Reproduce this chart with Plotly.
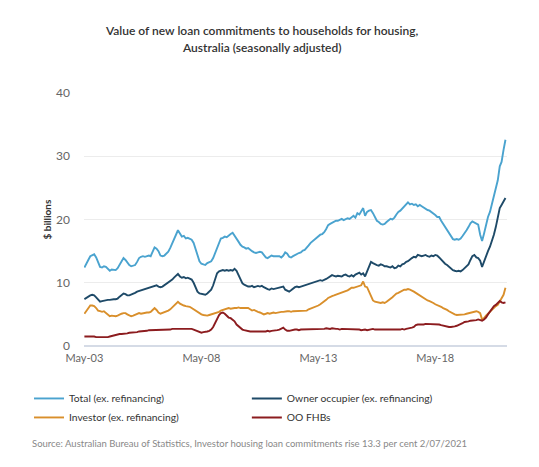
import pandas as pd
import plotly.graph_objects as go

# Monthly data, May-2003 to May-2021 ($ billions, seasonally adjusted)
months = pd.date_range("2003-05-01", "2021-05-01", freq="MS")

total = [
    12.4, 12.9, 13.6, 14.2, 14.4, 14.5, 14.0, 13.2,
    12.5, 12.4, 12.6, 12.5, 12.2, 11.9, 12.1, 12.0, 12.0, 12.3, 12.8, 13.3,
    13.9, 13.6, 13.2, 12.8, 12.6, 12.7, 12.8, 13.3, 13.9, 14.1, 14.2, 14.1,
    14.2, 14.3, 14.2, 14.8, 15.6, 15.4, 15.0, 14.3, 14.2, 14.3, 14.6, 14.9,
    15.5, 16.2, 16.9, 17.6, 18.3, 17.8, 17.3, 17.4, 17.0, 17.1, 17.0, 16.8,
    16.3, 15.2, 14.2, 13.4, 13.0, 12.9, 12.8, 13.1, 13.3, 13.4, 13.9, 14.7,
    15.6, 16.5, 17.0, 17.1, 17.3, 17.2, 17.5, 17.7, 17.9, 17.5, 17.0, 16.5,
    16.0, 15.7, 15.6, 15.4, 15.5, 15.2, 15.0, 14.8, 14.7, 14.8, 14.9, 14.8,
    14.4, 14.0, 13.9, 14.1, 14.3, 14.2, 14.2, 14.1, 14.2, 14.0, 14.3, 14.8,
    14.6, 14.1, 14.0, 14.2, 14.4, 14.6, 14.7, 14.8, 15.1, 15.2, 15.5, 15.9,
    16.3, 16.6, 16.8, 17.1, 17.4, 17.6, 17.7, 18.0, 18.5, 19.1, 19.3, 19.5,
    19.6, 19.8, 19.8, 19.9, 20.1, 19.9, 20.0, 20.2, 20.1, 20.4, 20.6, 20.3,
    21.0, 20.8, 21.3, 21.8, 20.6, 21.2, 21.4, 21.5, 21.0, 20.4, 19.8, 19.6,
    19.3, 19.2, 19.3, 19.6, 19.9, 20.1, 20.0, 20.3, 20.8, 21.2, 21.4, 21.7,
    22.0, 22.3, 22.7, 22.4, 22.5, 22.3, 22.4, 22.1, 22.3, 22.1, 21.9, 21.6,
    21.5, 21.4, 21.2, 21.0, 20.7, 20.4, 20.4, 19.8, 19.3, 18.7, 18.3, 17.8,
    17.3, 16.9, 16.8, 16.9, 16.8, 17.0, 17.4, 17.8, 18.3, 18.8, 19.4, 19.7,
    19.5, 19.4, 19.2, 17.6, 16.6, 17.8, 19.3, 20.4, 21.2, 22.5, 23.4, 24.9,
    26.2, 28.4, 29.1, 31.0, 32.6,
]

owner_occupier = [
    7.4, 7.6, 7.9, 8.0, 8.1, 8.0, 7.7, 7.3,
    7.0, 7.1, 7.2, 7.2, 7.3, 7.3, 7.4, 7.4, 7.4, 7.5, 7.8, 8.0,
    8.3, 8.2, 8.0, 8.0, 8.1, 8.2, 8.4, 8.6, 8.7, 8.8, 8.9, 9.0,
    9.1, 9.2, 9.3, 9.5, 9.6, 9.6, 9.4, 9.3, 9.4, 9.6, 9.8, 10.0,
    10.2, 10.5, 10.8, 11.1, 11.4, 11.0, 10.8, 10.9, 10.7, 10.8, 10.7, 10.5,
    10.0, 9.3, 8.6, 8.3, 8.2, 8.1, 8.1, 8.3, 8.6, 8.9, 9.6, 10.6,
    11.5, 11.8, 11.9, 12.0, 11.9, 12.0, 11.9, 12.0, 11.9, 12.2, 11.9, 11.3,
    10.6, 9.9, 9.7, 9.5, 9.4, 9.4, 9.5, 9.3, 9.4, 9.5, 9.4, 9.5,
    9.3, 9.1, 9.0, 8.9, 9.1, 9.0, 9.1, 9.1, 9.2, 9.3, 9.4, 8.9,
    8.8, 8.6, 8.8, 9.1, 9.3, 9.4, 9.3, 9.4, 9.5, 9.6, 9.6, 9.7,
    9.8, 9.9, 10.1, 10.2, 10.3, 10.4, 10.3, 10.4, 10.6, 10.8, 11.0, 11.2,
    11.1, 11.0, 11.1, 11.0, 11.0, 11.2, 11.3, 11.1, 11.0, 11.2, 11.0, 11.3,
    11.4, 11.6, 11.3, 11.5, 11.0, 11.7, 12.6, 13.3, 13.1, 12.9, 12.8, 12.7,
    12.9, 12.8, 12.6, 12.6, 12.5, 12.4, 12.6, 12.3, 12.4, 12.7, 12.6, 12.9,
    13.0, 13.3, 13.4, 13.7, 13.9, 14.1, 14.0, 14.4, 14.3, 14.2, 14.3, 14.4,
    14.2, 14.1, 14.3, 14.2, 14.4, 14.3, 14.0, 13.6, 13.3, 13.0, 12.8, 12.5,
    12.2, 12.0, 11.9, 11.8, 11.9, 11.8, 12.0, 12.3, 12.5, 12.9, 13.6, 14.2,
    14.4, 14.0, 13.9, 13.5, 12.5, 13.4, 14.2, 15.0, 15.7, 16.6, 17.6, 18.8,
    20.4, 21.8, 22.3, 22.9, 23.4,
]

investor = [
    5.1, 5.6, 6.1, 6.4, 6.4, 6.3, 6.0, 5.6,
    5.5, 5.4, 5.5, 5.2, 4.9, 4.7, 4.8, 4.7, 4.7, 4.8, 5.0, 5.1,
    5.2, 5.2, 5.0, 4.8, 4.7, 4.8, 4.9, 5.1, 5.2, 5.1, 5.2, 5.3,
    5.3, 5.3, 5.4, 5.7, 6.0, 5.7, 5.3, 5.1, 5.2, 5.3, 5.5, 5.6,
    5.8, 6.1, 6.4, 6.7, 7.0, 6.7, 6.5, 6.4, 6.3, 6.3, 6.2, 6.0,
    5.8, 5.5, 5.3, 5.2, 5.0, 4.9, 4.8, 4.8, 4.9, 5.0, 5.0, 5.1,
    5.3, 5.4, 5.6, 5.7, 5.8, 5.9, 6.0, 5.9, 6.0, 6.0, 6.0, 6.1,
    6.0, 6.0, 6.1, 6.0, 6.0, 5.8, 5.6, 5.7, 5.5, 5.4, 5.3, 5.2,
    5.0, 5.1, 5.2, 5.1, 5.2, 5.3, 5.2, 5.3, 5.3, 5.4, 5.4, 5.5,
    5.5, 5.5, 5.4, 5.5, 5.5, 5.5, 5.6, 5.5, 5.5, 5.6, 5.6, 5.8,
    5.9, 6.0, 6.1, 6.2, 6.4, 6.6, 6.8, 7.0, 7.3, 7.6, 7.8, 7.9,
    8.0, 8.1, 8.2, 8.4, 8.4, 8.5, 8.6, 8.8, 9.0, 9.2, 9.2, 9.3,
    9.4, 9.5, 9.6, 10.2, 9.4, 9.3, 8.6, 7.8, 7.2, 7.0, 6.9, 6.8,
    6.8, 6.9, 6.8, 7.0, 7.2, 7.5, 7.7, 8.0, 8.3, 8.4, 8.6, 8.8,
    8.9, 8.9, 9.0, 8.9, 8.8, 8.6, 8.4, 8.2, 8.0, 7.8, 7.5, 7.3,
    7.2, 7.1, 7.0, 6.8, 6.6, 6.5, 6.4, 6.2, 6.0, 5.9, 5.7, 5.5,
    5.3, 5.1, 5.0, 4.9, 4.9, 4.9, 5.0, 5.0, 5.1, 5.2, 5.2, 5.3,
    5.4, 5.5, 5.4, 5.2, 4.2, 4.4, 4.8, 5.1, 5.4, 5.8, 6.0, 6.3,
    6.5, 7.1, 7.6, 8.1, 9.2,
]

oo_fhb = [
    1.5, 1.5, 1.5, 1.6, 1.5, 1.5, 1.4, 1.4,
    1.3, 1.3, 1.3, 1.4, 1.4, 1.5, 1.6, 1.7, 1.8, 1.8, 1.9, 1.9,
    1.9, 2.0, 2.0, 2.1, 2.1, 2.1, 2.2, 2.2, 2.3, 2.3, 2.3, 2.4,
    2.4, 2.5, 2.5, 2.5, 2.6, 2.5, 2.5, 2.6, 2.5, 2.6, 2.6, 2.6,
    2.6, 2.7, 2.7, 2.7, 2.8, 2.7, 2.7, 2.8, 2.8, 2.7, 2.8, 2.7,
    2.6, 2.5, 2.3, 2.2, 2.1, 2.2, 2.2, 2.3, 2.4, 2.6, 3.0, 3.6,
    4.3, 4.9, 5.2, 5.3, 5.1, 4.8, 4.5, 4.4, 4.2, 3.9, 3.4, 3.1,
    2.9, 2.6, 2.5, 2.4, 2.4, 2.3, 2.3, 2.3, 2.2, 2.3, 2.3, 2.2,
    2.2, 2.3, 2.4, 2.3, 2.4, 2.4, 2.5, 2.5, 2.6, 2.8, 2.9, 2.6,
    2.4, 2.4, 2.5, 2.6, 2.6, 2.6, 2.5, 2.6, 2.6, 2.7, 2.6, 2.6,
    2.7, 2.6, 2.7, 2.7, 2.7, 2.6, 2.7, 2.7, 2.8, 2.7, 2.7, 2.8,
    2.7, 2.7, 2.7, 2.6, 2.7, 2.7, 2.7, 2.6, 2.6, 2.7, 2.6, 2.6,
    2.6, 2.6, 2.5, 2.6, 2.6, 2.5, 2.6, 2.6, 2.7, 2.6, 2.6, 2.5,
    2.6, 2.6, 2.5, 2.6, 2.6, 2.6, 2.6, 2.5, 2.6, 2.6, 2.6, 2.7,
    2.6, 2.7, 2.8, 2.8, 2.9, 3.0, 3.3, 3.4, 3.4, 3.3, 3.4, 3.5,
    3.5, 3.4, 3.5, 3.5, 3.4, 3.5, 3.4, 3.3, 3.2, 3.1, 3.1, 3.0,
    3.0, 3.0, 3.1, 3.2, 3.3, 3.5, 3.6, 3.8, 3.8, 3.9, 4.0, 4.0,
    4.1, 4.1, 4.2, 4.1, 4.0, 4.2, 4.5, 5.0, 5.5, 6.0, 6.3, 6.5,
    6.8, 7.1, 6.9, 6.8, 6.9,
]

series_names = ["Total (ex. refinancing)", "Owner occupier (ex. refinancing)",
                "Investor (ex. refinancing)", "OO FHBs"]
series_colors = ["#4aa3cf", "#1e4a68", "#d98f2b", "#8c1c1f"]
series_legend = ["legend", "legend2", "legend", "legend2"]

tick_dates = ["2003-05-01", "2008-05-01", "2013-05-01", "2018-05-01"]
tick_labels = ["May-03", "May-08", "May-13", "May-18"]
y_ticks = [0, 10, 20, 30, 40]

FONT = "Lato, 'Open Sans', sans-serif"

fig = go.Figure()
for name, vals, col, lg in zip(series_names, [total, owner_occupier, investor, oo_fhb],
                               series_colors, series_legend):
    fig.add_trace(go.Scatter(x=months, y=vals, mode="lines", name=name, legend=lg,
                             line=dict(color=col, width=1.9)))

legend_common = dict(orientation="v", yanchor="top", xanchor="left",
                     font=dict(size=10.3, color="#333", family=FONT),
                     itemwidth=30, bgcolor="rgba(0,0,0,0)", traceorder="normal")

# page body has an 8px margin, so the figure is drawn 8px smaller than the window
fig.update_layout(
    width=531, height=459,
    paper_bgcolor="white", plot_bgcolor="white",
    margin=dict(l=76, r=32, t=85, b=121, autoexpand=False),
    font=dict(family=FONT, color="#444"),
    showlegend=True,
    legend=dict(x=-0.13, y=-0.15, **legend_common),
    legend2=dict(x=0.385, y=-0.15, **legend_common),
    annotations=[
        dict(text="Value of new loan commitments to households for housing,",
             xref="paper", yref="paper", x=0.421, xanchor="center",
             y=1.248, yanchor="middle", showarrow=False,
             font=dict(size=12, color="#333", family=FONT, weight=600)),
        dict(text="Australia (seasonally adjusted)",
             xref="paper", yref="paper", x=0.421, xanchor="center",
             y=1.181, yanchor="middle", showarrow=False,
             font=dict(size=12, color="#333", family=FONT, weight=600)),
        dict(text="Source: Australian Bureau of Statistics, Investor housing loan commitments rise 13.3 per cent 2/07/2021",
             xref="paper", yref="paper", x=-0.127, xanchor="left", y=-0.384, yanchor="middle",
             showarrow=False, font=dict(size=9.5, color="#888", family=FONT)),
    ],
)

fig.update_xaxes(
    type="date", range=["2003-04-25", "2021-05-25"],
    tickvals=tick_dates, ticktext=tick_labels,
    showgrid=False, showline=False, zeroline=False,
    tickfont=dict(size=11, color="#666"), ticks="", ticklabelstandoff=4,
)
fig.update_yaxes(
    range=[0, 40], tickvals=y_ticks, showgrid=True, gridcolor="#ececec", gridwidth=1,
    zeroline=True, zerolinecolor="#d5dbe6", zerolinewidth=2,
    tickfont=dict(size=12, color="#666"), ticklabelstandoff=13,
    title=dict(text="$ billions", font=dict(size=10, color="#333", weight=700), standoff=2),
)

fig.write_html("out.html")
